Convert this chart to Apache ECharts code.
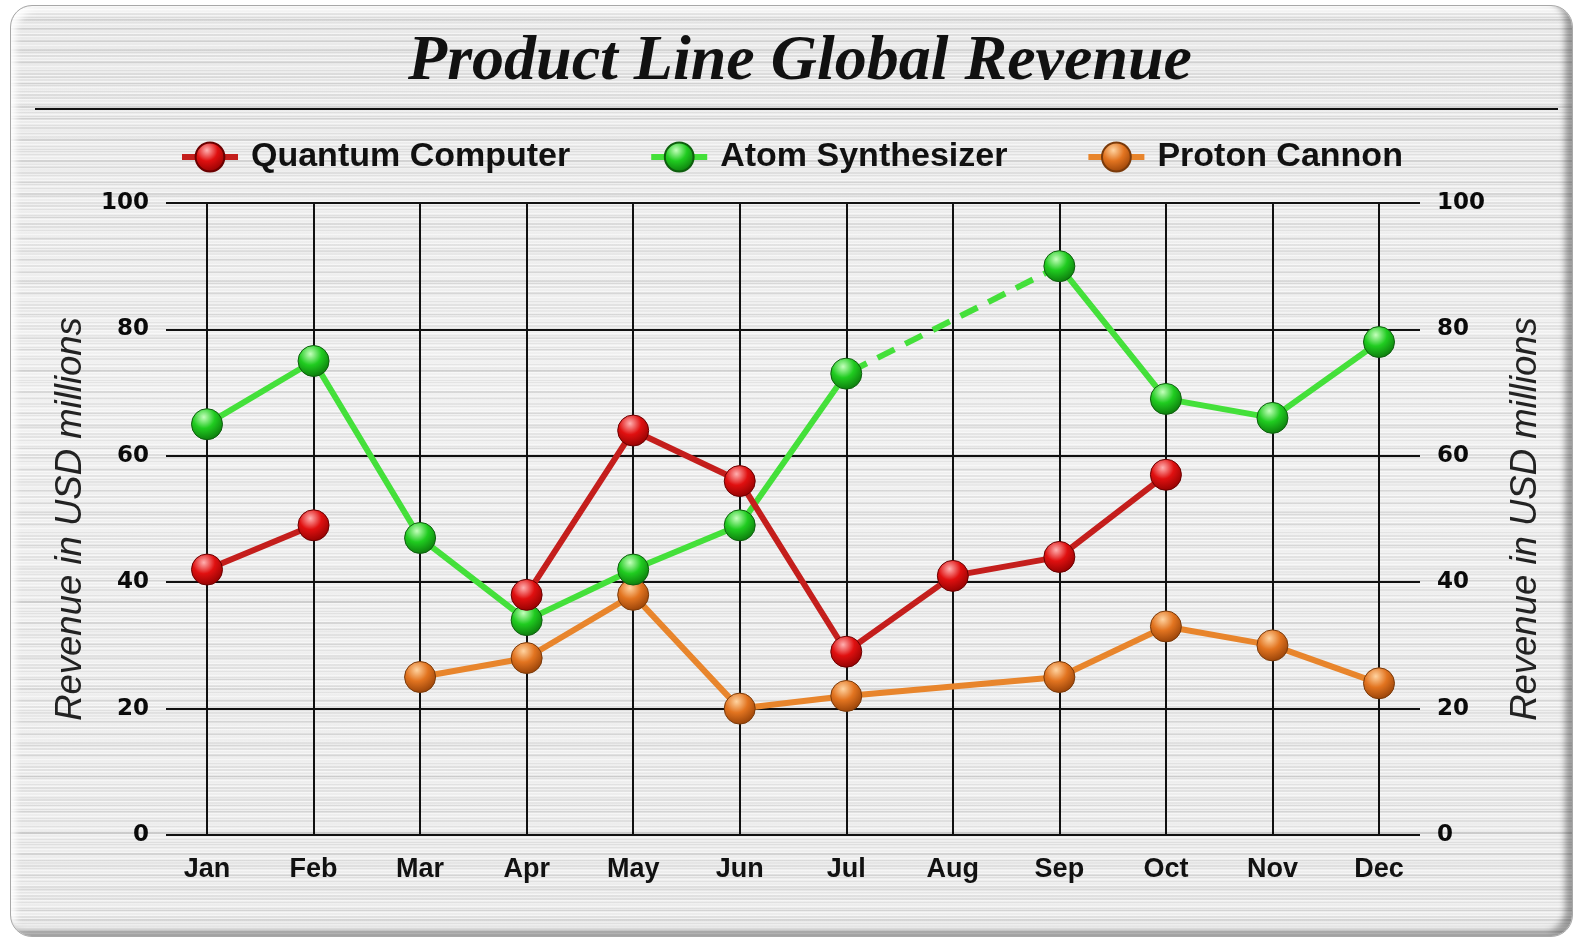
<!DOCTYPE html>
<html>
<head>
<meta charset="utf-8">
<title>Product Line Global Revenue</title>
<script src="https://cdn.jsdelivr.net/npm/echarts@6/dist/echarts.min.js"></script>
<style>
  html, body {
    margin: 0;
    padding: 0;
    background: #ffffff;
  }
  .panel {
    position: absolute;
    left: 10px;
    top: 5px;
    width: 1563px;
    height: 932px;
    box-sizing: border-box;
    border-radius: 22px;
    border: 1px solid #a8a8a8;
    box-shadow: inset -7px -5px 6px rgba(0, 0, 0, 0.35), inset 5px 5px 6px rgba(255, 255, 255, 0.9);
    background:
      repeating-linear-gradient(180deg, rgba(255, 255, 255, 0.5) 0 1px, rgba(255, 255, 255, 0) 1px 3px),
      repeating-linear-gradient(180deg, rgba(0, 0, 0, 0.05) 0 2px, rgba(0, 0, 0, 0) 2px 7px),
      repeating-linear-gradient(180deg, rgba(0, 0, 0, 0.035) 0 3px, rgba(255, 255, 255, 0.25) 3px 11px),
      repeating-linear-gradient(180deg, rgba(255, 255, 255, 0) 0 13px, rgba(0, 0, 0, 0.04) 13px 17px, rgba(255, 255, 255, 0) 17px 29px),
      linear-gradient(180deg, #e2e2e2, #ececec 40%, #e6e6e6);
  }
  #chart {
    position: absolute;
    left: 0;
    top: 0;
    width: 1581px;
    height: 941px;
  }
</style>
</head>
<body>
<div class="panel"></div>
<div id="chart"></div>
<script>
var months = ['Jan', 'Feb', 'Mar', 'Apr', 'May', 'Jun', 'Jul', 'Aug', 'Sep', 'Oct', 'Nov', 'Dec'];
var quantumComputer = [42, 49, null, 38, 64, 56, 29, 41, 44, 57, null, null];
var atomSynthesizer = [65, 75, 47, 34, 42, 49, 73, null, 90, 69, 66, 78];
var protonCannon = [null, null, 25, 28, 38, 20, 22, null, 25, 33, 30, 24];
var yMin = 0;
var yMax = 100;
var yStep = 20;

// the points on both sides of a missing month, joined by a dashed line
var atomBridge = atomSynthesizer.map(function (v, i, arr) {
  if (v == null) return null;
  if (arr[i + 1] === null || arr[i - 1] === null) return v;
  return null;
});

function ball(light, mid, dark) {
  return new echarts.graphic.RadialGradient(0.4, 0.28, 0.78, [
    { offset: 0, color: light },
    { offset: 0.45, color: mid },
    { offset: 1, color: dark }
  ]);
}

var myChart = echarts.init(document.getElementById('chart'));

var tickFont = {
  color: '#0a0a0a',
  fontFamily: 'DejaVu Sans',
  fontWeight: 'bold',
  fontSize: 23
};
var nameFont = {
  color: '#222',
  fontFamily: 'Liberation Sans',
  fontStyle: 'italic',
  fontSize: 36.5
};

var option = {
  animation: false,
  title: {
    text: 'Product Line Global Revenue',
    left: 795,
    textAlign: 'center',
    top: 25,
    textStyle: {
      color: '#111',
      fontFamily: 'Liberation Serif',
      fontStyle: 'italic',
      fontWeight: 'bold',
      fontSize: 64
    }
  },
  legend: {
    data: ['Quantum Computer', 'Atom Synthesizer', 'Proton Cannon'],
    left: 174,
    top: 135,
    itemWidth: 56,
    itemHeight: 36,
    itemGap: 78,
    lineStyle: { width: 6 },
    textStyle: {
      color: '#111',
      fontFamily: 'Liberation Sans',
      fontWeight: 'bold',
      fontSize: 34,
      padding: [0, 0, 0, 8]
    }
  },
  graphic: [{
    type: 'line',
    shape: { x1: 35, y1: 109, x2: 1558, y2: 109 },
    style: { stroke: '#111', lineWidth: 2 }
  }],
  grid: [
    { left: 166, right: 161, top: 203, bottom: 106 },
    { left: 207, right: 202, top: 203, bottom: 106 }
  ],
  xAxis: [
    { gridIndex: 0, type: 'value', show: false },
    {
      gridIndex: 1,
      type: 'category',
      data: months,
      boundaryGap: false,
      axisLine: { show: false },
      axisTick: { show: false },
      axisLabel: {
        margin: 21,
        color: '#111',
        fontFamily: 'Liberation Sans',
        fontWeight: 'bold',
        fontSize: 27
      },
      splitLine: { show: true, lineStyle: { color: '#111', width: 2 } }
    }
  ],
  yAxis: [
    {
      gridIndex: 0,
      type: 'value',
      position: 'left',
      min: yMin,
      max: yMax,
      interval: yStep,
      name: 'Revenue in USD millions',
      nameLocation: 'middle',
      nameGap: 77,
      nameTextStyle: nameFont,
      axisLine: { show: false },
      axisTick: { show: false },
      axisLabel: Object.assign({ margin: 17 }, tickFont),
      splitLine: { show: true, lineStyle: { color: '#111', width: 2 } }
    },
    {
      gridIndex: 0,
      type: 'value',
      position: 'right',
      min: yMin,
      max: yMax,
      interval: yStep,
      name: 'Revenue in USD millions',
      nameLocation: 'middle',
      nameGap: 87,
      nameTextStyle: nameFont,
      axisLine: { show: false },
      axisTick: { show: false },
      axisLabel: Object.assign({ margin: 17 }, tickFont),
      splitLine: { show: false }
    },
    {
      gridIndex: 1,
      type: 'value',
      min: yMin,
      max: yMax,
      interval: yStep,
      show: false,
      splitLine: { show: false }
    }
  ],
  series: [
    {
      name: 'Proton Cannon',
      type: 'line',
      xAxisIndex: 1,
      yAxisIndex: 2,
      data: protonCannon,
      connectNulls: true,
      symbol: 'circle',
      symbolSize: 31,
      lineStyle: { color: '#e8852c', width: 6 },
      itemStyle: {
        color: ball('#ffd3a0', '#e27420', '#8e3c05'),
        borderColor: '#7a3a0a',
        borderWidth: 1
      }
    },
    {
      name: 'atomBridge',
      type: 'line',
      xAxisIndex: 1,
      yAxisIndex: 2,
      data: atomBridge,
      connectNulls: true,
      symbol: 'none',
      lineStyle: { color: '#44e03a', width: 6, type: [19, 12], dashOffset: -4 }
    },
    {
      name: 'Atom Synthesizer',
      type: 'line',
      xAxisIndex: 1,
      yAxisIndex: 2,
      data: atomSynthesizer,
      connectNulls: false,
      symbol: 'circle',
      symbolSize: 31,
      lineStyle: { color: '#44e03a', width: 6 },
      itemStyle: {
        color: ball('#c4ffbc', '#20cc20', '#0a700a'),
        borderColor: '#0e5e0e',
        borderWidth: 1
      }
    },
    {
      name: 'Quantum Computer',
      type: 'line',
      xAxisIndex: 1,
      yAxisIndex: 2,
      data: quantumComputer,
      connectNulls: false,
      symbol: 'circle',
      symbolSize: 31,
      lineStyle: { color: '#c41e1c', width: 6 },
      itemStyle: {
        color: ball('#ffb0b0', '#e01010', '#880000'),
        borderColor: '#6a0000',
        borderWidth: 1
      }
    }
  ]
};

myChart.setOption(option);
</script>
</body>
</html>
